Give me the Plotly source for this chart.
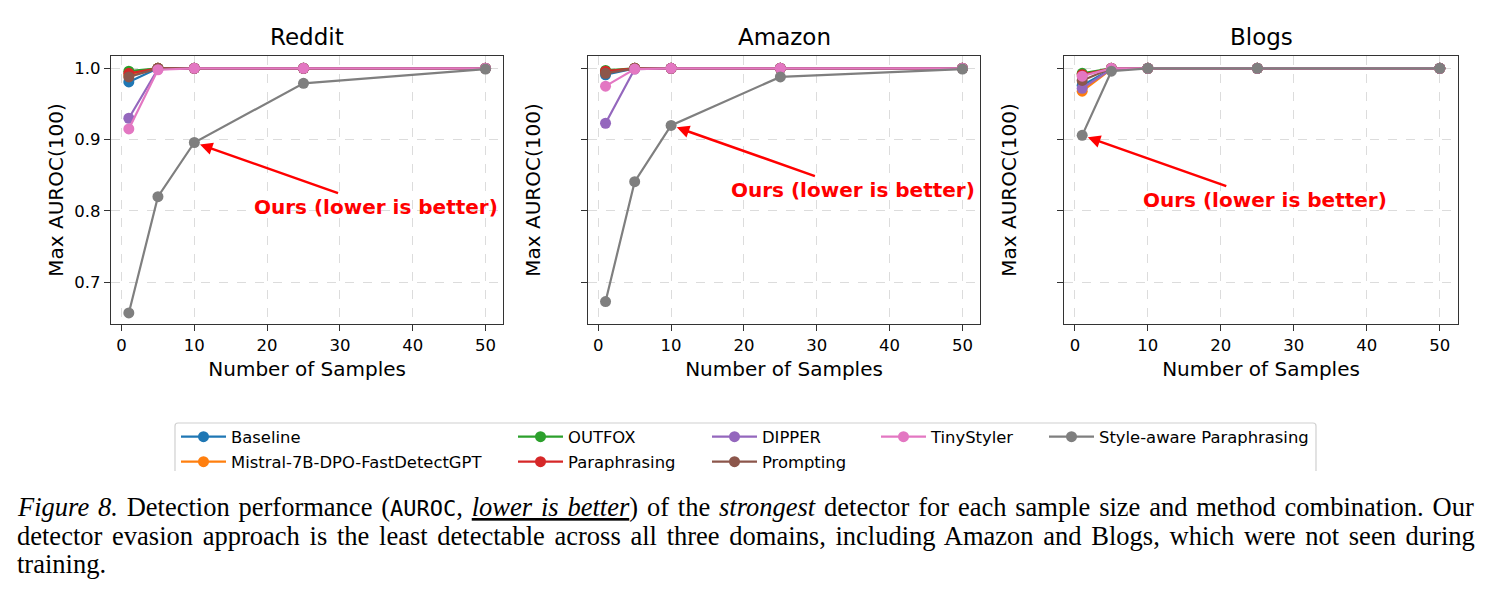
import plotly.graph_objects as go

W, H = 1491, 596

samples = [1, 5, 10, 25, 50]
methods = ["Baseline", "Mistral-7B-DPO-FastDetectGPT", "OUTFOX", "Paraphrasing",
           "DIPPER", "Prompting", "TinyStyler", "Style-aware Paraphrasing"]
colors = ["#1f77b4", "#ff7f0e", "#2ca02c", "#d62728",
          "#9467bd", "#8c564b", "#e377c2", "#7f7f7f"]
domains = ["Reddit", "Amazon", "Blogs"]

reddit = {
    "Baseline": [0.981, 1.0, 1.0, 1.0, 1.0],
    "Mistral-7B-DPO-FastDetectGPT": [0.990, 1.0, 1.0, 1.0, 1.0],
    "OUTFOX": [0.996, 1.0, 1.0, 1.0, 1.0],
    "Paraphrasing": [0.993, 1.0, 1.0, 1.0, 1.0],
    "DIPPER": [0.930, 0.999, 1.0, 1.0, 1.0],
    "Prompting": [0.988, 1.0, 1.0, 1.0, 1.0],
    "TinyStyler": [0.915, 0.998, 1.0, 1.0, 1.0],
    "Style-aware Paraphrasing": [0.657, 0.820, 0.896, 0.979, 0.999],
}
amazon = {
    "Baseline": [0.991, 1.0, 1.0, 1.0, 1.0],
    "Mistral-7B-DPO-FastDetectGPT": [0.995, 1.0, 1.0, 1.0, 1.0],
    "OUTFOX": [0.997, 1.0, 1.0, 1.0, 1.0],
    "Paraphrasing": [0.996, 1.0, 1.0, 1.0, 1.0],
    "DIPPER": [0.923, 0.999, 1.0, 1.0, 1.0],
    "Prompting": [0.993, 1.0, 1.0, 1.0, 1.0],
    "TinyStyler": [0.975, 0.999, 1.0, 1.0, 1.0],
    "Style-aware Paraphrasing": [0.673, 0.841, 0.920, 0.988, 0.999],
}
blogs = {
    "Baseline": [0.976, 0.999, 1.0, 1.0, 1.0],
    "Mistral-7B-DPO-FastDetectGPT": [0.968, 0.999, 1.0, 1.0, 1.0],
    "OUTFOX": [0.993, 1.0, 1.0, 1.0, 1.0],
    "Paraphrasing": [0.991, 1.0, 1.0, 1.0, 1.0],
    "DIPPER": [0.972, 0.999, 1.0, 1.0, 1.0],
    "Prompting": [0.983, 1.0, 1.0, 1.0, 1.0],
    "TinyStyler": [0.989, 1.0, 1.0, 1.0, 1.0],
    "Style-aware Paraphrasing": [0.906, 0.996, 1.0, 1.0, 1.0],
}
# index of the highlighted ("Ours") point in each panel
ours_idx = [2, 2, 0]

xticks = [0, 10, 20, 30, 40, 50]
yticks = [0.7, 0.8, 0.9, 1.0]

datasets = [reddit, amazon, blogs]

# panel boxes in pixels
px_boxes = [(111.0, 503.3), (587.7, 980.3), (1064.3, 1457.7)]
box_top, box_bot = 55.7, 324.3

fig = go.Figure()
SANS = "DejaVu Sans"

for p, data in enumerate(datasets):
    xa = "x" if p == 0 else f"x{p+1}"
    ya = "y" if p == 0 else f"y{p+1}"
    for i, m in enumerate(methods):
        fig.add_trace(go.Scatter(
            x=samples, y=data[m], mode="lines+markers", name=m,
            line=dict(color=colors[i], width=2.2),
            marker=dict(color=colors[i], size=11),
            xaxis=xa, yaxis=ya, showlegend=(p == 0),
            legend=("legend" if i == 0 else f"legend{i+1}"),
        ))

layout = dict(
    width=W, height=H, margin=dict(l=0, r=0, t=0, b=0),
    paper_bgcolor="white", plot_bgcolor="white",
    font=dict(family=SANS, color="#000", size=16.5),
)

for p in range(3):
    x0, x1 = px_boxes[p]
    sx = "" if p == 0 else str(p + 1)
    layout["xaxis" + sx] = dict(
        domain=[x0 / W, x1 / W], range=[-1.45, 52.45], anchor="y" + sx,
        tickvals=xticks, ticks="outside", ticklen=6, tickwidth=1.3, tickcolor="#333",
        showline=True, mirror=True, linecolor="#333", linewidth=1.3,
        showgrid=True, gridcolor="#dcdcdc", griddash="dash", gridwidth=1,
        zeroline=False, tickfont=dict(size=16.5, family=SANS),
        title=dict(text="Number of Samples", font=dict(size=20, family=SANS), standoff=7),
    )
    layout["yaxis" + sx] = dict(
        domain=[1 - box_bot / H, 1 - box_top / H], range=[0.6411, 1.0177], anchor="x" + sx,
        tickvals=yticks, tickformat=".1f", ticks="outside", ticklen=6, tickwidth=1.3,
        tickcolor="#333", showticklabels=True,
        showline=True, mirror=True, linecolor="#333", linewidth=1.3,
        showgrid=True, gridcolor="#dcdcdc", griddash="dash", gridwidth=1,
        zeroline=False, tickfont=dict(size=16.5, family=SANS,
                                      color="#000" if p == 0 else "rgba(0,0,0,0)"),
        title=dict(text="Max AUROC(100)", font=dict(size=20, family=SANS), standoff=5),
    )

# legends: one per entry, arranged in matplotlib's column-wise grid
leg_cols = [181, 518, 712, 881, 1049]
leg_rows = [437, 462]
leg_pos = [(0, 0), (0, 1), (1, 0), (1, 1), (2, 0), (2, 1), (3, 0), (4, 0)]
for i, (c, r) in enumerate(leg_pos):
    key = "legend" if i == 0 else f"legend{i+1}"
    layout[key] = dict(
        x=(leg_cols[c] - 5) / W, y=1 - leg_rows[r] / H, xanchor="left", yanchor="middle",
        bgcolor="rgba(0,0,0,0)", borderwidth=0, font=dict(size=16.4, family=SANS),
        itemwidth=45,
    )

annotations = []
for p, name in enumerate(domains):
    x0, x1 = px_boxes[p]
    annotations.append(dict(
        text=name, xref="paper", yref="paper", x=(x0 + x1) / 2 / W, y=1 - 37 / H,
        xanchor="center", yanchor="middle", showarrow=False,
        font=dict(size=23, family=SANS, color="#000"),
    ))
    data = datasets[p]
    k = ours_idx[p]
    sx = "" if p == 0 else str(p + 1)
    px_ = samples[k]
    py_ = data["Style-aware Paraphrasing"][k]
    annotations.append(dict(
        text="<b>Ours (lower is better)</b>", xref="x" + sx, yref="y" + sx,
        x=px_, y=py_, ax=px_ + 25, ay=py_ - 0.09, axref="x" + sx, ayref="y" + sx,
        showarrow=True, arrowhead=2, arrowsize=1.0, arrowwidth=2.5, arrowcolor="#ff0000",
        standoff=6, font=dict(size=20, family=SANS, color="#ff0000"),
    ))

SERIF = "Liberation Serif"
cap_lines = [
    "<span style='word-spacing:2.2px'><i>Figure 8.</i> Detection performance "
    "(<span style='font-family:DejaVu Sans Mono;font-size:22px'>AUROC</span>, "
    "<i><u>lower is better</u></i>) of the <i>strongest</i> detector for each sample size "
    "and method combination. Our</span>",
    "<span style='word-spacing:3.1px'>detector evasion approach is the least detectable across all three "
    "domains, including Amazon and Blogs, which were not seen during</span>",
    "training.",
]
cap_y = [507, 536, 564]
for t, yy in zip(cap_lines, cap_y):
    annotations.append(dict(
        text=t, xref="paper", yref="paper", x=15 / W, y=1 - yy / H,
        xanchor="left", yanchor="middle", showarrow=False, align="left",
        font=dict(size=26.5, family=SERIF, color="#000"),
    ))
layout["annotations"] = annotations

layout["shapes"] = [dict(
    type="path", xref="paper", yref="paper",
    path=f"M {175/W},{1-471/H} L {175/W},{1-426/H} Q {175/W},{1-423/H} {178/W},{1-423/H} "
         f"L {1313/W},{1-423/H} Q {1316/W},{1-423/H} {1316/W},{1-426/H} L {1316/W},{1-471/H}",
    line=dict(color="#d0d0d0", width=1.2),
)]

fig.update_layout(**layout)
fig.write_html("out.html")
